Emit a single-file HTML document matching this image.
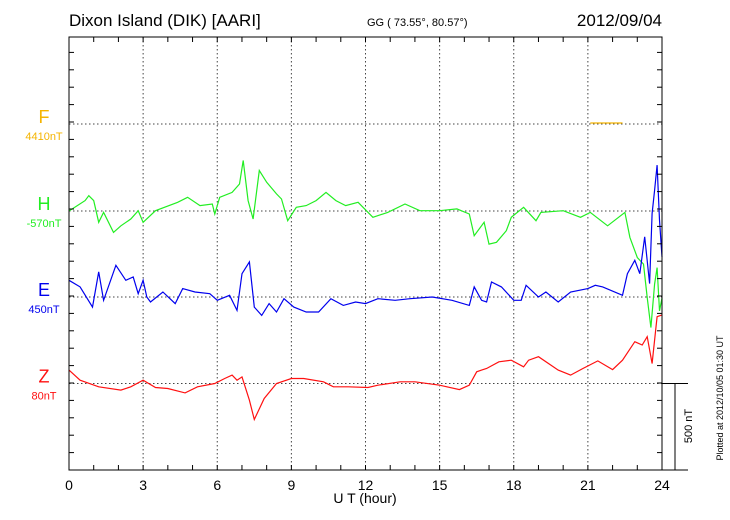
<!DOCTYPE html>
<html><head><meta charset="utf-8"><style>
body{margin:0;background:#fff;}
svg{display:block;font-family:"Liberation Sans",sans-serif;}
</style></head><body>
<svg id="chart" width="730" height="520" viewBox="0 0 730 520">
<text x="69" y="26" font-size="17" fill="#000">Dixon Island (DIK)  [AARI]</text>
<text x="367" y="26" font-size="11" fill="#000">GG ( 73.55°,  80.57°)</text>
<text x="662" y="26" font-size="17" fill="#000" text-anchor="end">2012/09/04</text>
<g id="grid"></g><g id="series"></g><g id="axes"></g>
<text x="365" y="503" font-size="14" text-anchor="middle">U T (hour)</text>
<text transform="translate(692,426) rotate(-90)" font-size="11" text-anchor="middle">500 nT</text>
<text transform="translate(723,398) rotate(-90)" font-size="9" text-anchor="middle">Plotted at 2012/10/05 01:30 UT</text>
</svg>
<script>
const hTimes=[0,0.65,0.8,1.0,1.2,1.4,1.8,2.1,2.5,2.8,3.0,3.5,4.4,4.8,5.3,5.8,5.9,6.1,6.6,6.9,7.05,7.25,7.45,7.7,8.0,8.4,8.6,8.85,9.2,9.6,10.0,10.4,10.8,11.2,11.7,12.3,12.9,13.6,14.2,15.0,15.7,16.2,16.4,16.8,17.0,17.3,17.7,17.9,18.4,18.9,19.1,20.0,20.7,21.1,21.8,22.5,22.7,23.0,23.25,23.4,23.55,23.7,23.8,23.9,24.0];
const hValues=[0,60,88,60,-65,-8,-123,-85,-46,2,-65,2,50,79,31,40,-17,79,107,155,290,60,-46,233,165,98,69,-56,21,31,60,107,60,31,50,-36,-8,40,2,2,12,-17,-142,-65,-190,-180,-113,-36,21,-56,-8,2,-36,-8,-85,-8,-152,-267,-305,-497,-670,-420,-325,-574,-500];
const eTimes=[0,0.45,0.95,1.2,1.4,1.9,2.3,2.6,2.8,3.0,3.15,3.3,3.8,4.3,4.6,5.1,5.7,6.0,6.5,6.8,7.0,7.3,7.5,7.8,8.1,8.4,8.7,9.1,9.6,10.1,10.6,11.1,11.6,12.0,12.5,13.2,13.8,14.7,15.5,16.2,16.4,16.7,16.9,17.1,17.5,18.0,18.3,18.5,19.0,19.3,19.8,20.3,21.0,21.3,21.6,22.4,22.6,22.9,23.1,23.3,23.5,23.6,23.7,23.8,23.9,24.0];
const eValues=[96,58,-58,144,-19,182,96,115,19,96,0,-29,29,-38,48,29,19,-19,10,-77,134,202,-58,-106,-38,-86,-10,-58,-86,-86,-10,-48,-29,-38,-10,-19,-10,0,-19,-48,58,-19,-29,86,58,-19,-19,67,0,29,-29,29,48,67,58,10,134,211,134,346,77,480,614,758,442,230];
const zTimes=[0,0.45,1.2,2.1,2.5,3.0,3.5,4.0,4.7,5.2,5.9,6.3,6.6,6.8,7.0,7.3,7.5,7.9,8.4,9.0,9.5,10.3,10.7,11.3,12.1,12.5,13.4,14.0,15.0,15.8,16.2,16.5,16.7,16.9,17.4,17.9,18.4,18.6,19.0,19.8,20.3,20.8,21.4,22.0,22.4,22.9,23.2,23.4,23.6,23.8,24.0];
const zValues=[77,19,-19,-38,-19,19,-23,-29,-54,-19,0,29,48,19,38,-96,-207,-86,0,29,29,10,-19,-19,-23,-10,10,10,-10,-35,-10,67,77,86,125,134,96,134,154,77,48,86,130,80,134,240,221,269,115,384,394];
const fTimes=[21.1,22.4];
const fValues=[6,6];
const xTicks=[0,3,6,9,12,15,18,21,24];
const seriesNames=["F","H","E","Z"];
const seriesBaseLabels=["4410nT","-570nT","450nT","80nT"];

const X0=69,X1=662,Y0=37,Y1=470;
const NT_PX=87/500;
const bases=[124,211,297,383.5];
const colors=["#f5b400","#22ee22","#0000ee","#ff1010"];
const xs=h=>X0+(X1-X0)*h/24;
const ys=(v,i)=>bases[i]-v*NT_PX;
const NS="http://www.w3.org/2000/svg";
function mk(tag,attrs,parent){const e=document.createElementNS(NS,tag);for(const k in attrs)e.setAttribute(k,attrs[k]);parent.appendChild(e);return e;}
const grid=document.getElementById('grid'),axes=document.getElementById('axes'),ser=document.getElementById('series');
xTicks.forEach(t=>{if(t>0&&t<24){const l=mk('line',{x1:xs(t),x2:xs(t),y1:Y0,y2:Y1,stroke:'#444','stroke-width':1,'stroke-dasharray':'1.5,2.5'},grid);

}
const tx=mk('text',{x:xs(t),y:490,'font-size':14,'text-anchor':'middle'},axes);tx.textContent=t;

});
bases.forEach((b,i)=>{const l=mk('line',{x1:X0,x2:X1,y1:b,y2:b,stroke:'#444','stroke-width':1,'stroke-dasharray':'1.5,2.5'},grid);


const t1=mk('text',{x:44,y:b-1,'font-size':18,'text-anchor':'middle',fill:colors[i]},axes);t1.textContent=seriesNames[i];


const t2=mk('text',{x:44,y:b+16,'font-size':11,'text-anchor':'middle',fill:colors[i]},axes);t2.textContent=seriesBaseLabels[i];

});
const fr=mk('rect',{x:X0,y:Y0,width:X1-X0,height:Y1-Y0,fill:'none',stroke:'#000','stroke-width':1},axes);


for(let h=1;h<24;h++){mk('line',{x1:xs(h),x2:xs(h),y1:Y0,y2:Y0+5,stroke:'#000'},axes);mk('line',{x1:xs(h),x2:xs(h),y1:Y1,y2:Y1-5,stroke:'#000'},axes);}
for(let y=Y1-500*NT_PX/5;y>Y0+2;y-=100*NT_PX){mk('line',{x1:X0,x2:X0+5,y1:y,y2:y,stroke:'#000'},axes);mk('line',{x1:X1,x2:X1-5,y1:y,y2:y,stroke:'#000'},axes);}
mk('line',{x1:X1,x2:688,y1:383.5,y2:383.5,stroke:'#000'},axes);
mk('line',{x1:X1,x2:688,y1:Y1,y2:Y1,stroke:'#000'},axes);
const sb=mk('line',{x1:675,x2:675,y1:383.5,y2:Y1,stroke:'#000'},axes);


const data=[[fTimes,fValues],[hTimes,hValues],[eTimes,eValues],[zTimes,zValues]];
data.forEach(([t,v],i)=>{const d=t.map((h,k)=>(k?'L':'M')+xs(h).toFixed(1)+','+ys(v[k],i).toFixed(1)).join('');
const p=mk('path',{d:d,fill:'none',stroke:colors[i],'stroke-width':1.2},ser);

});
</script>
</body></html>
